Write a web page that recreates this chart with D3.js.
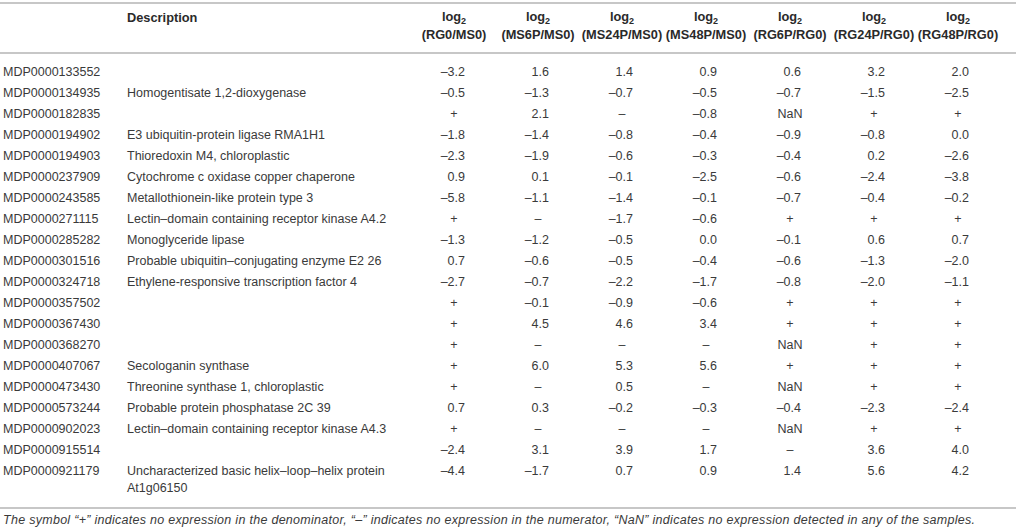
<!DOCTYPE html>
<html>
<head>
<meta charset="utf-8">
<script src="https://cdn.jsdelivr.net/npm/d3@7"></script>
<style>
  body { margin: 0; background: #fff; }
  text { font-family: "Liberation Sans", Arial, Helvetica, sans-serif; fill: #3a3a3a; }
  .head { font-weight: bold; fill: #2a2a2a; }
  .rule { stroke: #b4b4b4; stroke-width: 1.5; }
</style>
</head>
<body>
<div id="table"></div>
<script>
// gene ids, one per row
const ids = [
  'MDP0000133552', 'MDP0000134935', 'MDP0000182835', 'MDP0000194902', 'MDP0000194903',
  'MDP0000237909', 'MDP0000243585', 'MDP0000271115', 'MDP0000285282', 'MDP0000301516',
  'MDP0000324718', 'MDP0000357502', 'MDP0000367430', 'MDP0000368270', 'MDP0000407067',
  'MDP0000473430', 'MDP0000573244', 'MDP0000902023', 'MDP0000915514', 'MDP0000921179'
];

// descriptions (array = wrapped lines)
const descriptions = [
  '', 'Homogentisate 1,2-dioxygenase', '', 'E3 ubiquitin-protein ligase RMA1H1',
  'Thioredoxin M4, chloroplastic', 'Cytochrome c oxidase copper chaperone',
  'Metallothionein-like protein type 3', 'Lectin–domain containing receptor kinase A4.2',
  'Monoglyceride lipase', 'Probable ubiquitin–conjugating enzyme E2 26',
  'Ethylene-responsive transcription factor 4', '', '', '', 'Secologanin synthase',
  'Threonine synthase 1, chloroplastic', 'Probable protein phosphatase 2C 39',
  'Lectin–domain containing receptor kinase A4.3', '',
  ['Uncharacterized basic helix–loop–helix protein', 'At1g06150']
];

const ratios = ['RG0/MS0', 'MS6P/MS0', 'MS24P/MS0', 'MS48P/MS0', 'RG6P/RG0', 'RG24P/RG0', 'RG48P/RG0'];

// "+" no expression in denominator, "–" none in numerator, "NaN" none at all
const rg0ms0   = [-3.2, -0.5, '+', -1.8, -2.3, 0.9, -5.8, '+', -1.3, 0.7, -2.7, '+', '+', '+', '+', '+', 0.7, '+', -2.4, -4.4];
const ms6pms0  = [1.6, -1.3, 2.1, -1.4, -1.9, 0.1, -1.1, '–', -1.2, -0.6, -0.7, -0.1, 4.5, '–', 6.0, '–', 0.3, '–', 3.1, -1.7];
const ms24pms0 = [1.4, -0.7, '–', -0.8, -0.6, -0.1, -1.4, -1.7, -0.5, -0.5, -2.2, -0.9, 4.6, '–', 5.3, 0.5, -0.2, '–', 3.9, 0.7];
const ms48pms0 = [0.9, -0.5, -0.8, -0.4, -0.3, -2.5, -0.1, -0.6, 0.0, -0.4, -1.7, -0.6, 3.4, '–', 5.6, '–', -0.3, '–', 1.7, 0.9];
const rg6prg0  = [0.6, -0.7, 'NaN', -0.9, -0.4, -0.6, -0.7, '+', -0.1, -0.6, -0.8, '+', '+', 'NaN', '+', 'NaN', -0.4, 'NaN', '–', 1.4];
const rg24prg0 = [3.2, -1.5, '+', -0.8, 0.2, -2.4, -0.4, '+', 0.6, -1.3, -2.0, '+', '+', '+', '+', '+', -2.3, '+', 3.6, 5.6];
const rg48prg0 = [2.0, -2.5, '+', 0.0, -2.6, -3.8, -0.2, '+', 0.7, -2.0, -1.1, '+', '+', '+', '+', '+', -2.4, '+', 4.0, 4.2];

const columns = [rg0ms0, ms6pms0, ms24pms0, ms48pms0, rg6prg0, rg24prg0, rg48prg0];

const footnote = 'The symbol “+” indicates no expression in the denominator, “–” indicates no expression in the numerator, “NaN” indicates no expression detected in any of the samples.';

const width = 1016, height = 530;
const fontSize = 12.5, headSize = 12.8;

const svg = d3.select('#table').append('svg')
  .attr('width', width)
  .attr('height', height);

// row and column positions
const yRow = d3.scaleLinear().domain([0, ids.length - 1]).range([72, 471]);
const xCol = d3.scalePoint().domain(ratios).range([454, 958]);
const idX = 3, descX = 127, numOffset = 11;

const fmt = v => d3.format('.1f')(v).replace('−', '–');

// horizontal rules
svg.selectAll('.rule')
  .data([3, 53, 508])
  .join('line')
  .attr('class', 'rule')
  .attr('x1', 0).attr('x2', width)
  .attr('y1', d => d).attr('y2', d => d);

// header
svg.append('text')
  .attr('class', 'head')
  .attr('x', descX).attr('y', 18).attr('dy', '0.35em')
  .style('font-size', headSize + 'px')
  .text('Description');

const heads = svg.selectAll('.colhead')
  .data(ratios)
  .join('g')
  .attr('class', 'colhead');

heads.append('text')
  .attr('class', 'head')
  .attr('x', d => xCol(d)).attr('y', 17).attr('dy', '0.35em')
  .attr('text-anchor', 'middle')
  .style('font-size', headSize + 'px')
  .call(t => {
    t.append('tspan').text('log');
    t.append('tspan').attr('dy', 3).style('font-size', '9px').text('2');
  });

heads.append('text')
  .attr('class', 'head')
  .attr('x', d => xCol(d)).attr('y', 35).attr('dy', '0.35em')
  .attr('text-anchor', 'middle')
  .style('font-size', headSize + 'px')
  .text(d => `(${d})`);

// body rows
const rows = svg.selectAll('.row')
  .data(ids.map((id, i) => ({ id, i, desc: descriptions[i] })))
  .join('g')
  .attr('class', 'row')
  .attr('transform', d => `translate(0,${yRow(d.i)})`);

rows.append('text')
  .attr('x', idX).attr('dy', '0.35em')
  .style('font-size', fontSize + 'px')
  .text(d => d.id);

rows.append('text')
  .attr('x', descX)
  .style('font-size', fontSize + 'px')
  .each(function (d) {
    const lines = Array.isArray(d.desc) ? d.desc : [d.desc];
    d3.select(this).selectAll('tspan')
      .data(lines)
      .join('tspan')
      .attr('x', descX)
      .attr('dy', (l, j) => j === 0 ? '0.35em' : 17)
      .text(l => l);
  });

rows.selectAll('.cell')
  .data(d => ratios.map((r, c) => ({ r, v: columns[c][d.i] })))
  .join('text')
  .attr('class', 'cell')
  .attr('dy', '0.35em')
  .style('font-size', fontSize + 'px')
  .attr('text-anchor', d => typeof d.v === 'number' ? 'end' : 'middle')
  .attr('x', d => typeof d.v === 'number' ? xCol(d.r) + numOffset : xCol(d.r))
  .text(d => typeof d.v === 'number' ? fmt(d.v) : d.v);

// footnote
svg.append('text')
  .attr('x', idX).attr('y', 520).attr('dy', '0.35em')
  .attr('textLength', 972)
  .attr('lengthAdjust', 'spacing')
  .style('font-size', fontSize + 'px')
  .style('font-style', 'italic')
  .text(footnote);
</script>
</body>
</html>
